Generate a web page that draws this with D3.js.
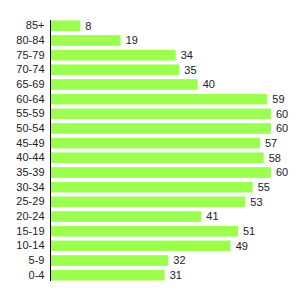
<!DOCTYPE html>
<html>
<head>
<meta charset="utf-8">
<script src="https://cdn.jsdelivr.net/npm/d3@7"></script>
<style>
  body { margin: 0; background: #fff; }
  text { font-family: "Liberation Sans", Arial, sans-serif; }
</style>
</head>
<body>
<div id="chart"></div>
<script>
// age groups, top to bottom
const ageGroups = ["85+", "80-84", "75-79", "70-74", "65-69", "60-64", "55-59", "50-54",
  "45-49", "40-44", "35-39", "30-34", "25-29", "20-24", "15-19", "10-14", "5-9", "0-4"];
const counts = [8, 19, 34, 35, 40, 59, 60, 60, 57, 58, 60, 55, 53, 41, 51, 49, 32, 31];

const width = 300, height = 300;
const margin = {top: 20, right: 29, bottom: 19, left: 51};

let data = ageGroups.map((g, i) => ({group: g, value: counts[i]}));

let svg = d3.select("#chart")
  .append("svg")
  .attr("width", width)
  .attr("height", height);

let x = d3.scaleLinear()
  .domain([0, 60])
  .range([margin.left, width - margin.right]);

let y = d3.scaleBand()
  .domain(ageGroups)
  .range([margin.top, height - margin.bottom])
  .paddingInner(0.27)
  .paddingOuter(0.03);

svg.append("g")
  .selectAll("rect")
  .data(data)
  .enter()
  .append("rect")
  .attr("x", x(0))
  .attr("y", d => y(d.group))
  .attr("width", d => x(d.value) - x(0))
  .attr("height", y.bandwidth())
  .attr("fill", "#9cff50");

// value labels
svg.append("g")
  .selectAll("text")
  .data(data)
  .enter()
  .append("text")
  .attr("x", d => x(d.value) + 5)
  .attr("y", d => y(d.group) + y.bandwidth() / 2)
  .attr("dy", "0.36em")
  .style("font-size", "11px")
  .attr("fill", "#222")
  .text(d => d.value);

// y axis
let yAxis = svg.append("g")
  .attr("transform", `translate(${margin.left - 0.5}, 0)`)
  .call(d3.axisLeft(y).tickSize(0).tickPadding(6));
yAxis.select(".domain").attr("stroke", "#000").attr("d", `M0,${margin.top}V${height - margin.bottom}`);
yAxis.selectAll("text")
  .style("font-size", "11px")
  .style("font-family", "'Liberation Sans', Arial, sans-serif")
  .attr("fill", "#222");
</script>
</body>
</html>
